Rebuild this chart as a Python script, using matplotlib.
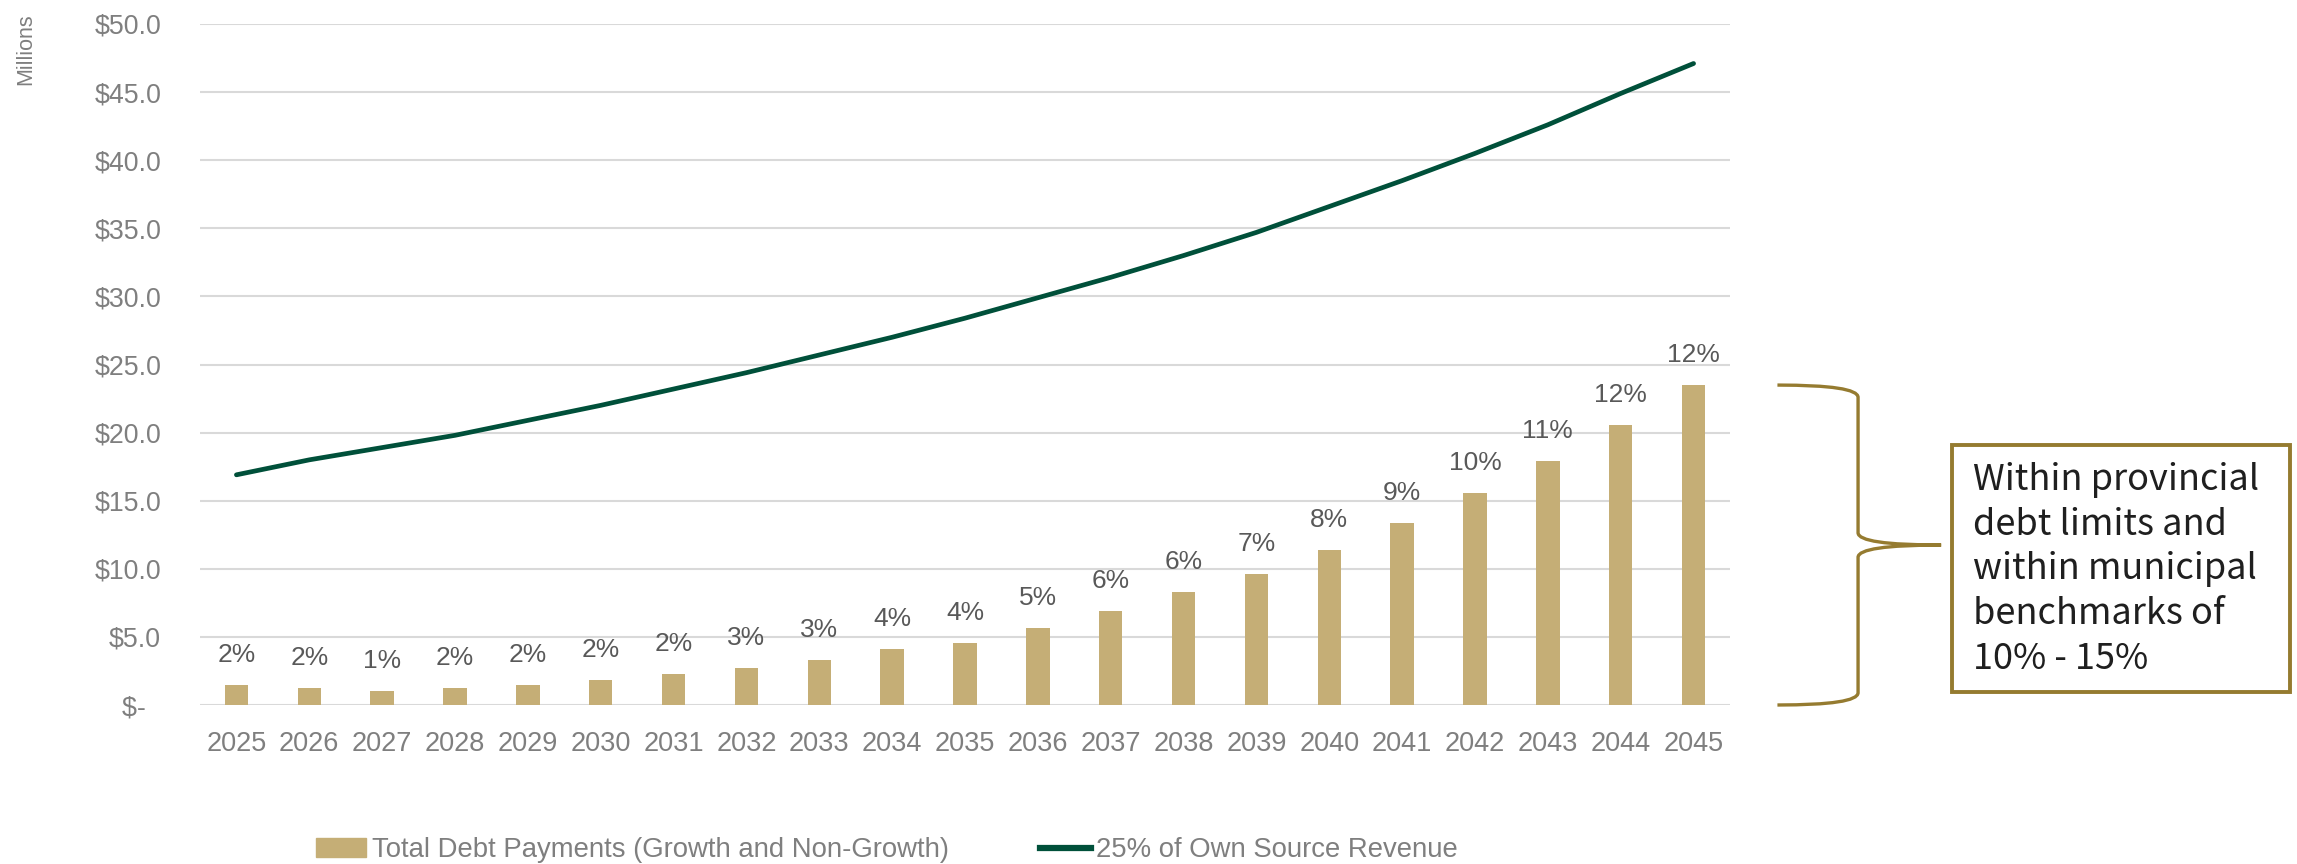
import matplotlib
matplotlib.use("Agg")
import matplotlib.pyplot as plt
import matplotlib.transforms as mtransforms
from matplotlib.path import Path
from matplotlib.patches import PathPatch, Rectangle
from matplotlib.lines import Line2D

years = list(range(2025, 2046))
debt = [1.48, 1.26, 1.06, 1.23, 1.45, 1.80, 2.24, 2.71, 3.28, 4.09, 4.56,
        5.65, 6.90, 8.32, 9.59, 11.39, 13.37, 15.56, 17.93, 20.59, 23.49]
revenue = [16.9, 18.0, 18.9, 19.8, 20.9, 22.0, 23.2, 24.4, 25.7, 27.0, 28.4,
           29.9, 31.4, 33.0, 34.7, 36.6, 38.5, 40.5, 42.6, 44.9, 47.1]
pct_labels = ["2%", "2%", "1%", "2%", "2%", "2%", "2%", "3%", "3%", "4%", "4%",
              "5%", "6%", "6%", "7%", "8%", "9%", "10%", "11%", "12%", "12%"]
yticks = [0, 5, 10, 15, 20, 25, 30, 35, 40, 45, 50]
note = "Within provincial\ndebt limits and\nwithin municipal\nbenchmarks of\n10% - 15%"

BAR = "#C5AE76"
LINE = "#00503A"
GOLD = "#957B30"
GREY = "#7F7F7F"

plt.rcParams["font.family"] = ["Liberation Sans", "DejaVu Sans"]

fig = plt.figure(figsize=(22.97, 8.64), dpi=100)
ax = fig.add_axes([200 / 2297, 1 - 705 / 864, 1530 / 2297, 681 / 864])

x = list(range(len(years)))
ax.bar(x, debt, 0.32, color=BAR, zorder=2)
ax.plot(x, revenue, color=LINE, lw=3.4, solid_capstyle="round", zorder=3)

for i, (v, lab) in enumerate(zip(debt, pct_labels)):
    ax.annotate(lab, (i, v), xytext=(0, 13), textcoords="offset points",
                ha="center", va="bottom", fontsize=19, color="#595959")

ax.set_xlim(-0.5, len(years) - 0.5)
ax.set_ylim(0, 50)
ax.set_xticks(x)
ax.set_xticklabels([str(y) for y in years])
ax.set_yticks(yticks)
ax.set_yticklabels(["$-  "] + [f"${v:.1f}" for v in yticks[1:]])
ax.tick_params(axis="x", length=0, pad=19, labelsize=19.5, labelcolor=GREY)
ax.tick_params(axis="y", length=0, pad=28, labelsize=19.3, labelcolor=GREY)
ax.grid(axis="y", color="#D9D9D9", lw=1.5, zorder=0)
ax.set_axisbelow(True)
for s in ax.spines.values():
    s.set_visible(False)

fig.text(0.0113, 0.985, "Millions", rotation=90, ha="center", va="top",
         fontsize=15.5, color=GREY)

# brace + note box to the right of the plot
tr = mtransforms.blended_transform_factory(ax.transAxes, ax.transData)
top = debt[-1]
mid = top / 2
x0, x1, xm, r = 1.031, 1.0837, 1.138, 0.9
verts = [(x0, top), (x1, top), (x1, top - r),
         (x1, mid + r), (x1, mid), (xm, mid),
         (x1, mid), (x1, mid - r),
         (x1, r), (x1, 0), (x0, 0)]
codes = [Path.MOVETO, Path.CURVE3, Path.CURVE3,
         Path.LINETO, Path.CURVE3, Path.CURVE3,
         Path.CURVE3, Path.CURVE3,
         Path.LINETO, Path.CURVE3, Path.CURVE3]
ax.add_patch(PathPatch(Path(verts, codes), transform=tr, fill=False,
                       edgecolor=GOLD, lw=2.4, clip_on=False))
ax.add_patch(Rectangle((1.145, 0.95), 0.221, 18.14, transform=tr, clip_on=False,
                       facecolor="white", edgecolor=GOLD, lw=2.8))
ax.text(1.159, 17.85, note, transform=tr, ha="left", va="top", fontsize=26,
        color="#1F1F1F", linespacing=1.31,
        family=["Noto Sans CJK JP", "DejaVu Sans"])

handles = [Rectangle((0, 0), 1, 1, color=BAR),
           Line2D([], [], color=LINE, lw=4.5)]
fig.legend(handles, ["Total Debt Payments (Growth and Non-Growth)",
                     "25% of Own Source Revenue"],
           loc="center", bbox_to_anchor=(0.386, 0.016), ncol=2, frameon=False,
           fontsize=19.8, labelcolor=GREY, handlelength=1.85, handleheight=0.65,
           handletextpad=0.2, columnspacing=3.3)

fig.savefig("out.png", dpi=100)
